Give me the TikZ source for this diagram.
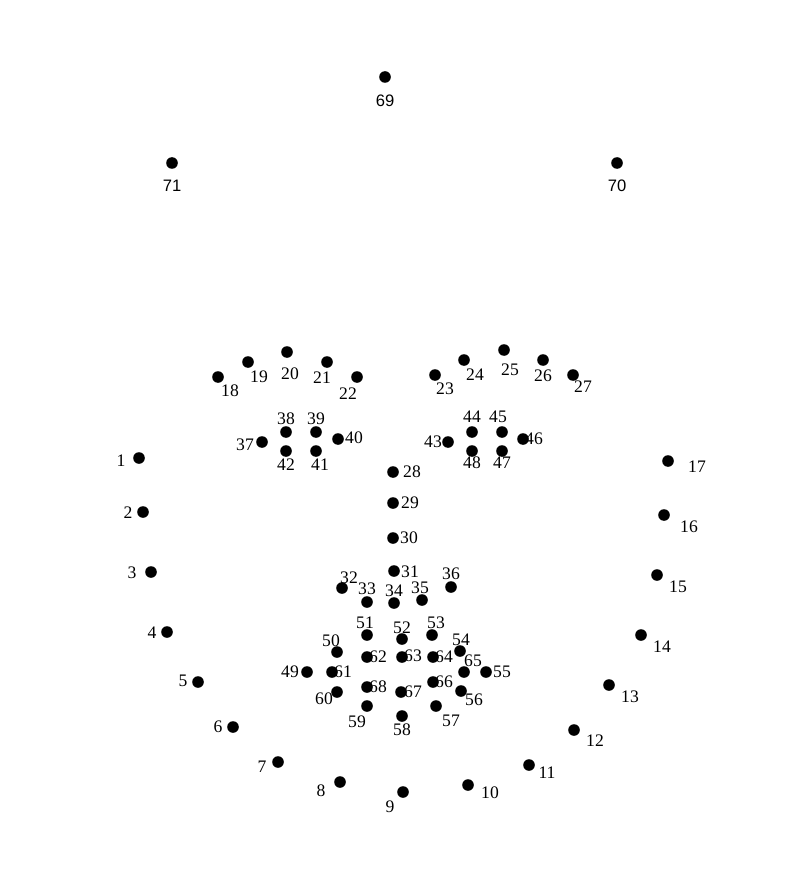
\documentclass[tikz,border=0pt]{standalone}
\usepackage{fontspec}
\setmainfont{Liberation Serif}
\newfontfamily\sansnum{Liberation Sans}
\usepackage{tikz}
\usetikzlibrary{positioning}

\tikzset{
  dot/.style={circle, fill=black, inner sep=0pt, minimum size=5.8pt},
  num/.style={inner sep=0pt, font=\fontsize{8.8}{10}\selectfont},
  snum/.style={inner sep=0pt, font=\sansnum\fontsize{8.3}{10}\selectfont}
}

\begin{document}
\begin{tikzpicture}[x=0.5pt, y=-0.5pt]

\useasboundingbox (0,0) rectangle (806,877);

% ---------------------------------------------------------
% Forehead points
% ---------------------------------------------------------
\node[dot] (p69) at (385,77)  {}; \node[snum] (n69) at (385,101) {69};
\node[dot] (p70) at (617,163) {}; \node[snum] (n70) at (617,186) {70};
\node[dot] (p71) at (172,163) {}; \node[snum] (n71) at (172,186) {71};

% ---------------------------------------------------------
% Jaw line
% ---------------------------------------------------------
\node[dot] (p1)  at (139,458) {}; \node[num] (n1)  at (121,461) {1};
\node[dot] (p2)  at (143,512) {}; \node[num] (n2)  at (128,513) {2};
\node[dot] (p3)  at (151,572) {}; \node[num] (n3)  at (132,573) {3};
\node[dot] (p4)  at (167,632) {}; \node[num] (n4)  at (152,633) {4};
\node[dot] (p5)  at (198,682) {}; \node[num] (n5)  at (183,681) {5};
\node[dot] (p6)  at (233,727) {}; \node[num] (n6)  at (218,727) {6};
\node[dot] (p7)  at (278,762) {}; \node[num] (n7)  at (262,767) {7};
\node[dot] (p8)  at (340,782) {}; \node[num] (n8)  at (321,791) {8};
\node[dot] (p9)  at (403,792) {}; \node[num] (n9)  at (390,807) {9};
\node[dot] (p10) at (468,785) {}; \node[num] (n10) at (490,793) {10};
\node[dot] (p11) at (529,765) {}; \node[num] (n11) at (547,773) {11};
\node[dot] (p12) at (574,730) {}; \node[num] (n12) at (595,741) {12};
\node[dot] (p13) at (609,685) {}; \node[num] (n13) at (630,697) {13};
\node[dot] (p14) at (641,635) {}; \node[num] (n14) at (662,647) {14};
\node[dot] (p15) at (657,575) {}; \node[num] (n15) at (678,587) {15};
\node[dot] (p16) at (664,515) {}; \node[num] (n16) at (689,527) {16};
\node[dot] (p17) at (668,461) {}; \node[num] (n17) at (697,467) {17};

% ---------------------------------------------------------
% Eyebrows
% ---------------------------------------------------------
\node[dot] (p18) at (218,377) {}; \node[num] (n18) at (230,391) {18};
\node[dot] (p19) at (248,362) {}; \node[num] (n19) at (259,377) {19};
\node[dot] (p20) at (287,352) {}; \node[num] (n20) at (290,374) {20};
\node[dot] (p21) at (327,362) {}; \node[num] (n21) at (322,378) {21};
\node[dot] (p22) at (357,377) {}; \node[num] (n22) at (348,394) {22};
\node[dot] (p23) at (435,375) {}; \node[num] (n23) at (445,389) {23};
\node[dot] (p24) at (464,360) {}; \node[num] (n24) at (475,375) {24};
\node[dot] (p25) at (504,350) {}; \node[num] (n25) at (510,370) {25};
\node[dot] (p26) at (543,360) {}; \node[num] (n26) at (543,376) {26};
\node[dot] (p27) at (573,375) {}; \node[num] (n27) at (583,387) {27};

% ---------------------------------------------------------
% Nose
% ---------------------------------------------------------
\node[dot] (p28) at (393,472) {}; \node[num] (n28) at (412,472) {28};
\node[dot] (p29) at (393,503) {}; \node[num] (n29) at (410,503) {29};
\node[dot] (p30) at (393,538) {}; \node[num] (n30) at (409,538) {30};
\node[dot] (p31) at (394,571) {}; \node[num] (n31) at (410,572) {31};
\node[dot] (p32) at (342,588) {}; \node[num] (n32) at (349,578) {32};
\node[dot] (p33) at (367,602) {}; \node[num] (n33) at (367,589) {33};
\node[dot] (p34) at (394,603) {}; \node[num] (n34) at (394,591) {34};
\node[dot] (p35) at (422,600) {}; \node[num] (n35) at (420,588) {35};
\node[dot] (p36) at (451,587) {}; \node[num] (n36) at (451,574) {36};

% ---------------------------------------------------------
% Eyes
% ---------------------------------------------------------
\node[dot] (p37) at (262,442) {}; \node[num] (n37) at (245,445) {37};
\node[dot] (p38) at (286,432) {}; \node[num] (n38) at (286,419) {38};
\node[dot] (p39) at (316,432) {}; \node[num] (n39) at (316,419) {39};
\node[dot] (p40) at (338,439) {}; \node[num] (n40) at (354,438) {40};
\node[dot] (p41) at (316,451) {}; \node[num] (n41) at (320,465) {41};
\node[dot] (p42) at (286,451) {}; \node[num] (n42) at (286,465) {42};
\node[dot] (p43) at (448,442) {}; \node[num] (n43) at (433,442) {43};
\node[dot] (p44) at (472,432) {}; \node[num] (n44) at (472,417) {44};
\node[dot] (p45) at (502,432) {}; \node[num] (n45) at (498,417) {45};
\node[dot] (p46) at (523,439) {}; \node[num] (n46) at (534,439) {46};
\node[dot] (p47) at (502,451) {}; \node[num] (n47) at (502,463) {47};
\node[dot] (p48) at (472,451) {}; \node[num] (n48) at (472,463) {48};

% ---------------------------------------------------------
% Mouth, outer contour
% ---------------------------------------------------------
\node[dot] (p49) at (307,672) {}; \node[num] (n49) at (290,672) {49};
\node[dot] (p50) at (337,652) {}; \node[num] (n50) at (331,641) {50};
\node[dot] (p51) at (367,635) {}; \node[num] (n51) at (365,623) {51};
\node[dot] (p52) at (402,639) {}; \node[num] (n52) at (402,628) {52};
\node[dot] (p53) at (432,635) {}; \node[num] (n53) at (436,623) {53};
\node[dot] (p54) at (460,651) {}; \node[num] (n54) at (461,640) {54};
\node[dot] (p55) at (486,672) {}; \node[num] (n55) at (502,672) {55};
\node[dot] (p56) at (461,691) {}; \node[num] (n56) at (474,700) {56};
\node[dot] (p57) at (436,706) {}; \node[num] (n57) at (451,721) {57};
\node[dot] (p58) at (402,716) {}; \node[num] (n58) at (402,730) {58};
\node[dot] (p59) at (367,706) {}; \node[num] (n59) at (357,722) {59};
\node[dot] (p60) at (337,692) {}; \node[num] (n60) at (324,699) {60};

% ---------------------------------------------------------
% Mouth, inner contour
% ---------------------------------------------------------
\node[dot] (p61) at (332,672) {}; \node[num] (n61) at (343,672) {61};
\node[dot] (p62) at (367,657) {}; \node[num] (n62) at (378,657) {62};
\node[dot] (p63) at (402,657) {}; \node[num] (n63) at (413,656) {63};
\node[dot] (p64) at (433,657) {}; \node[num] (n64) at (444,657) {64};
\node[dot] (p65) at (464,672) {}; \node[num] (n65) at (473,661) {65};
\node[dot] (p66) at (433,682) {}; \node[num] (n66) at (444,682) {66};
\node[dot] (p67) at (401,692) {}; \node[num] (n67) at (413,692) {67};
\node[dot] (p68) at (367,687) {}; \node[num] (n68) at (378,687) {68};

\end{tikzpicture}
\end{document}
